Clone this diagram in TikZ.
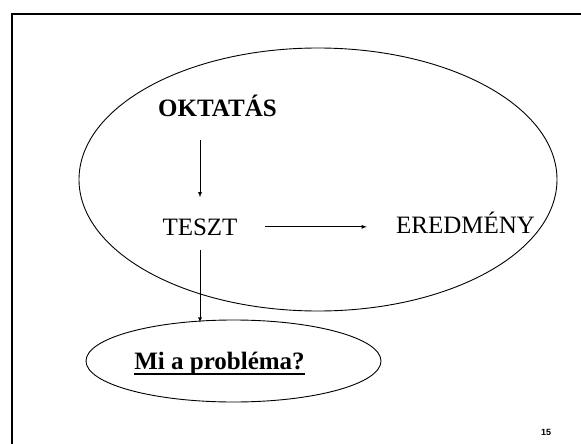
\documentclass[tikz,border=0pt]{standalone}
\usepackage{fontspec}
\setmainfont{Liberation Serif}
\newfontfamily\pagefont{Liberation Sans}
\usetikzlibrary{shapes.geometric}
\newcommand{\ulbox}[1]{\setbox0\hbox{#1}\rlap{\rule[-6pt]{\wd0}{2pt}}\box0}

\begin{document}
\begin{tikzpicture}[x=1pt, y=-1pt, >=latex,
        every node/.style={inner sep=0pt},
        plain/.style={font=\fontsize{25}{30}\selectfont},
        heading/.style={font=\fontsize{25}{30}\selectfont\bfseries},
        oval/.style={draw, ellipse, line width=0.9pt},
        link/.style={->, line width=0.8pt}]
        \useasboundingbox (0,0) rectangle (581,444);
        % Slide frame (only left and top edges show)
        \draw[line width=2pt] (12,444) -- (12,14) -- (581,14);

        % Big oval
        \node (bigoval) [oval, minimum width=478pt, minimum height=263pt] at (318,179.5) {};
        % Teaching
        \node (okt) [heading, anchor=base] at (217.5,116) {OKTATÁS};
        % Test
        \node (teszt) [plain, anchor=base] at (200,235) {TESZT};
        % Result
        \node (ered) [plain, anchor=base] at (465.5,233) {EREDMÉNY};

        % Small oval with the question
        \node (proboval) [oval, minimum width=295pt, minimum height=82pt] at (233.5,361) {};
        \node (prob) [heading, anchor=base] at (219.5,369) {\ulbox{Mi a probléma?}};

        % Page number
        \node (pagenum) [font=\pagefont\bfseries\fontsize{9}{10}\selectfont] at (546,432) {15};

        % Arrows
        \draw[link, shorten <=24pt, shorten >=21pt] (okt.south -| teszt.north) -- (teszt.north);
        \draw[link, shorten <=27pt, shorten >=29pt] (teszt.east) -- (teszt.east -| ered.west);
        \draw[link, shorten <=15pt, shorten >=-3pt] (teszt.south) -- (teszt.south |- proboval.north);
    \end{tikzpicture}
\end{document}
